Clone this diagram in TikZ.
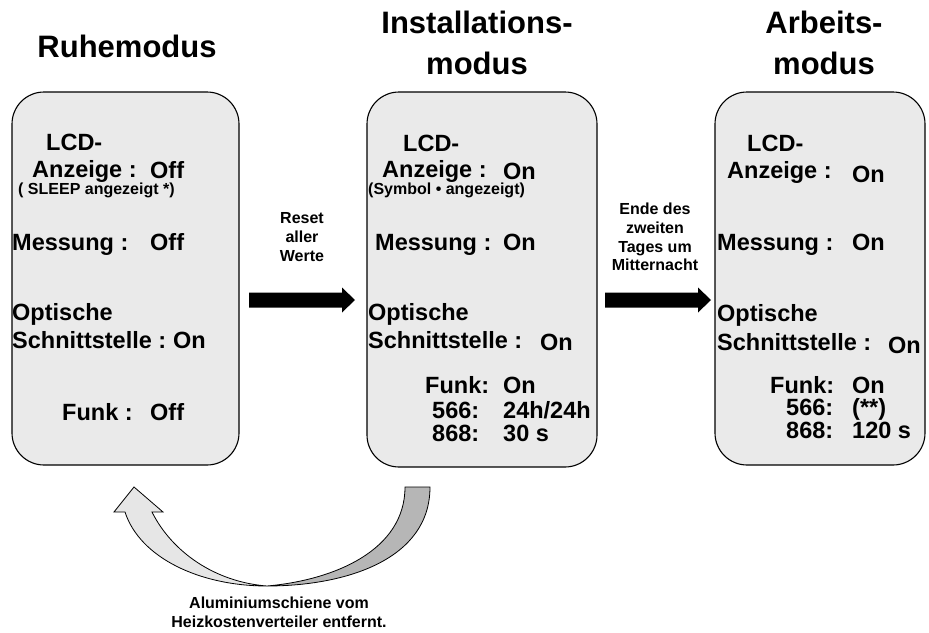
\documentclass[tikz,border=0pt]{standalone}
\usepackage{fontspec}
\setmainfont{Liberation Sans}
\usepackage{tikz}
\usetikzlibrary{arrows.meta,calc}
\usepackage{xcolor}

\definecolor{boxgray}{RGB}{234,234,234}
\definecolor{ribbonlight}{RGB}{230,230,230}
\definecolor{ribbondark}{RGB}{182,182,182}

% block arrow from #1 to tip #2
\newcommand{\blockarrow}[2]{%
  \fill ($(#1)+(0,7.5)$) -- ($(#2)+(-13,7.5)$) -- ($(#2)+(-13,12.5)$) -- (#2)
    -- ($(#2)+(-13,-12.5)$) -- ($(#2)+(-13,-7.5)$) -- ($(#1)+(0,-7.5)$) -- cycle;}

\tikzset{
  modebox/.style={rectangle, draw, fill=boxgray, line width=1.1pt, rounded corners=32pt},
  modetitle/.style={font=\fontsize{31}{41}\selectfont\bfseries, align=center},
  entry/.style={font=\fontsize{23.5}{28}\selectfont\bfseries, anchor=base west, inner sep=0pt},
  smallentry/.style={font=\fontsize{16}{18}\selectfont\bfseries, anchor=base west, inner sep=0pt},
  note/.style={font=\fontsize{16}{18.7}\selectfont\bfseries, align=center},
}

\begin{document}
\begin{tikzpicture}[x=1pt, y=-1pt]
          \useasboundingbox (0,0) rectangle (929,632);

          % Titles
          \node[modetitle] (t1) at (127,46) {Ruhemodus};
          \node[modetitle] (t2) at (477,43) {Installations-\\modus};
          \node[modetitle] (t3) at (824,43) {Arbeits-\\modus};

          % Rectangles
          \node[modebox, minimum width=227pt, minimum height=373pt] (ruhe) at (125.5,278.5) {};
          \node[modebox, minimum width=230pt, minimum height=375pt] (inst) at (482,279.5) {};
          \node[modebox, minimum width=210pt, minimum height=373pt] (arb) at (820,278.5) {};

          % Ruhemodus entries
          \node[entry] (r1) at (46,150) {LCD-};
          \node[entry] (r2) at (32,177) {Anzeige :};
          \node[entry] (r2v) at (150,178) {Off};
          \node[smallentry] (r3) at (18,194) {( SLEEP angezeigt *)};
          \node[entry] (r4) at (12,250) {Messung :};
          \node[entry] (r4v) at (150,250) {Off};
          \node[entry] (r5) at (12,320) {Optische};
          \node[entry] (r6) at (12,348) {Schnittstelle :};
          \node[entry] (r6v) at (173,348) {On};
          \node[entry] (r7) at (62,420) {Funk :};
          \node[entry] (r7v) at (150,420) {Off};

          % Installationsmodus entries
          \node[entry] (i1) at (403,151) {LCD-};
          \node[entry] (i2) at (382,177) {Anzeige :};
          \node[entry] (i2v) at (503,179) {On};
          \node[smallentry] (i3) at (368,194) {(Symbol • angezeigt)};
          \node[entry] (i4) at (375,250) {Messung :};
          \node[entry] (i4v) at (503,250) {On};
          \node[entry] (i5) at (368,320) {Optische};
          \node[entry] (i6) at (368,348) {Schnittstelle :};
          \node[entry] (i6v) at (540,350) {On};
          \node[entry] (i7) at (425,393) {Funk:};
          \node[entry] (i7v) at (503,393) {On};
          \node[entry] (i8) at (432,418) {566:};
          \node[entry] (i8v) at (503,418) {24h/24h};
          \node[entry] (i9) at (432,441) {868:};
          \node[entry] (i9v) at (503,441) {30 s};

          % Arbeitsmodus entries
          \node[entry] (a1) at (747,151) {LCD-};
          \node[entry] (a2) at (727,178) {Anzeige :};
          \node[entry] (a2v) at (852,182) {On};
          \node[entry] (a4) at (717,250) {Messung :};
          \node[entry] (a4v) at (852,250) {On};
          \node[entry] (a5) at (717,321) {Optische};
          \node[entry] (a6) at (717,350) {Schnittstelle :};
          \node[entry] (a6v) at (888,353) {On};
          \node[entry] (a7) at (770,393) {Funk:};
          \node[entry] (a7v) at (852,393) {On};
          \node[entry] (a8) at (786,415) {566:};
          \node[entry] (a8v) at (852,415) {(**)};
          \node[entry] (a9) at (786,438) {868:};
          \node[entry] (a9v) at (852,438) {120 s};

          % Transitions
          \node[note] (reset) at (302,237) {Reset\\aller\\Werte};
          \node[note] (ende) at (655,237) {Ende des\\zweiten\\Tages um\\Mitternacht};
          \coordinate (s1) at (249,300);
          \coordinate (e1) at (355,300);
          \coordinate (s2) at (605,300);
          \coordinate (e2) at (711,300);
          \blockarrow{s1}{e1}
          \blockarrow{s2}{e2}

          % Curved arrow back
          \draw[fill=ribbondark, line width=0.8pt] (405,487) -- (430,487)
            .. controls (430,560) and (345,586) .. (267,586)
            .. controls (335,580) and (405,550) .. (405,487) -- cycle;
          \draw[fill=ribbonlight, line width=0.8pt] (267,586)
            .. controls (200,586) and (140,558) .. (125,512)
            -- (114,512) -- (134,487) -- (163,512) -- (152,512)
            .. controls (172,552) and (215,582) .. (267,586) -- cycle;
          \node[note] (removed) at (279,612) {Aluminiumschiene vom\\Heizkostenverteiler entfernt.};

        \end{tikzpicture}
\end{document}
